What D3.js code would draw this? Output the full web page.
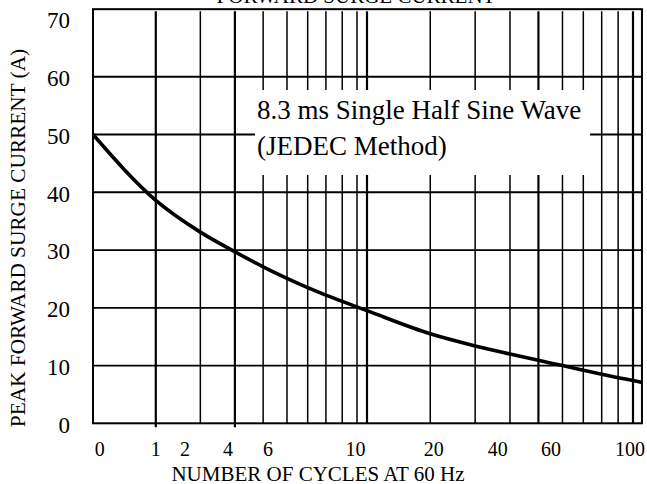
<!DOCTYPE html>
<html><head><meta charset="utf-8">
<script src="https://cdn.jsdelivr.net/npm/d3@7"></script>
<style>
html,body{margin:0;padding:0;background:#fff;overflow:hidden}
svg{display:block}
text{font-family:"Liberation Serif","Times New Roman",serif;fill:#000}
</style>
</head><body>
<svg id="c" width="647" height="484"></svg>
<script>
// ---- data ----
const cycles = [1, 2, 3, 4, 5, 6, 7, 8, 9, 10, 20, 30, 40, 50, 60, 70, 80, 90, 100, 106];
const amps   = [50, 38.6, 33.1, 29.7, 27.1, 25.1, 23.5, 22.2, 21.1, 19.5, 15.5, 13.4, 12.0, 10.9, 10.0, 9.2, 8.5, 7.9, 7.4, 7.1];
const yTicks = [0, 10, 20, 30, 40, 50, 60, 70];
const yGrid = [10, 20, 30, 40, 50, 60];
const gridLow = [2, 3, 4, 5, 6, 7, 8, 9, 10];
const gridHigh = [10, 20, 30, 40, 50, 60, 70, 80, 90, 100];
const boldGrid = [2, 4];
const xTickLabels = ["0", "1", "2", "4", "6", "10", "20", "40", "60", "100"];
const xTickAt = [1.09, 2.0, 2.62, 3.78, 5.19, 9.9, 20.7, 36.2, 55.0, 97.9];
const xMin = 1, xMax = 106.5, yMax = 71.7;
const title = "FORWARD SURGE CURRENT";
const xTitle = "NUMBER OF CYCLES AT 60 Hz";
const yTitle = "PEAK FORWARD SURGE CURRENT (A)";
const note = ["8.3 ms Single Half Sine Wave", "(JEDEC Method)"];

// ---- scales ----
const xLow = d3.scaleLog().domain([2, 11]).range([93, 357]);
const xHigh = d3.scaleLog().domain([2, 11]).range([367, 633]);
const x = v => v < 10 ? xLow(v + 1) : xHigh(v / 10 + 1);
const y = d3.scaleLinear().domain([0, 70]).range([423.3, 19]);

const svg = d3.select("#c");
const L = x(xMin), R = x(xMax), T = y(yMax), B = y(0);

// grid
const g = svg.append("g").attr("stroke", "#000").attr("fill", "none");
g.selectAll("line.hy").data(yGrid).join("line")
  .attr("x1", L).attr("x2", R).attr("y1", d => y(d)).attr("y2", d => y(d))
  .attr("stroke-width", 1.8);
g.selectAll("line.vl").data(gridLow).join("line")
  .attr("x1", d => xLow(d + 1)).attr("x2", d => xLow(d + 1))
  .attr("y1", T + 2).attr("y2", d => boldGrid.includes(d) ? B + 4 : B)
  .attr("stroke-width", d => boldGrid.includes(d) ? 2.2 : 1.5);
g.selectAll("line.vh").data(gridHigh).join("line")
  .attr("x1", d => xHigh(d / 10 + 1)).attr("x2", d => xHigh(d / 10 + 1))
  .attr("y1", T + 2).attr("y2", B)
  .attr("stroke-width", d => (d === 50 || d === 100 || d === 10) ? 2.2 : 1.5);

// white annotation box
svg.append("rect").attr("x", 255).attr("y", 90).attr("width", 335).attr("height", 85).attr("fill", "#fff");

// frame
svg.append("rect").attr("x", L).attr("y", T).attr("width", R - L).attr("height", B - T)
  .attr("fill", "none").attr("stroke", "#000").attr("stroke-width", 2);

// curve
svg.append("clipPath").attr("id", "clip").append("rect")
  .attr("x", L).attr("y", T).attr("width", R - L).attr("height", B - T);
const pts = cycles.map((c, i) => [c, amps[i]]);
svg.append("path").datum(pts)
  .attr("clip-path", "url(#clip)")
  .attr("fill", "none").attr("stroke", "#000").attr("stroke-width", 3.6)
  .attr("stroke-linecap", "round")
  .attr("d", d3.line().x(d => x(d[0])).y(d => y(d[1])).curve(d3.curveMonotoneX));

// annotation text
svg.append("text").attr("x", 257).attr("y", 118.5).attr("font-size", 27).text(note[0]);
svg.append("text").attr("x", 257).attr("y", 155).attr("font-size", 27).text(note[1]);

// y axis labels
const ya = svg.append("g").attr("transform", `translate(${L},0)`)
  .call(d3.axisLeft(y).tickValues(yTicks).tickSize(0).tickPadding(23).tickFormat(d3.format("d")));
ya.select(".domain").remove();
ya.selectAll("text").attr("font-size", 23).attr("font-family", '"Liberation Serif", serif').attr("dy", "0.38em");

// x labels
svg.append("g").selectAll("text").data(xTickLabels).join("text")
  .attr("x", (d, i) => x(xTickAt[i])).attr("y", 456)
  .attr("text-anchor", "middle").attr("font-size", 20).text(d => d);

// titles
svg.append("text").attr("x", 318).attr("y", 480.5).attr("text-anchor", "middle").attr("font-size", 21).text(xTitle);
svg.append("text").attr("transform", "translate(25,238) rotate(-90)").attr("text-anchor", "middle").attr("font-size", 21.3).text(yTitle);
svg.append("text").attr("x", 356).attr("y", 2.5).attr("text-anchor", "middle").attr("font-size", 21).text(title);
</script>
</body></html>
